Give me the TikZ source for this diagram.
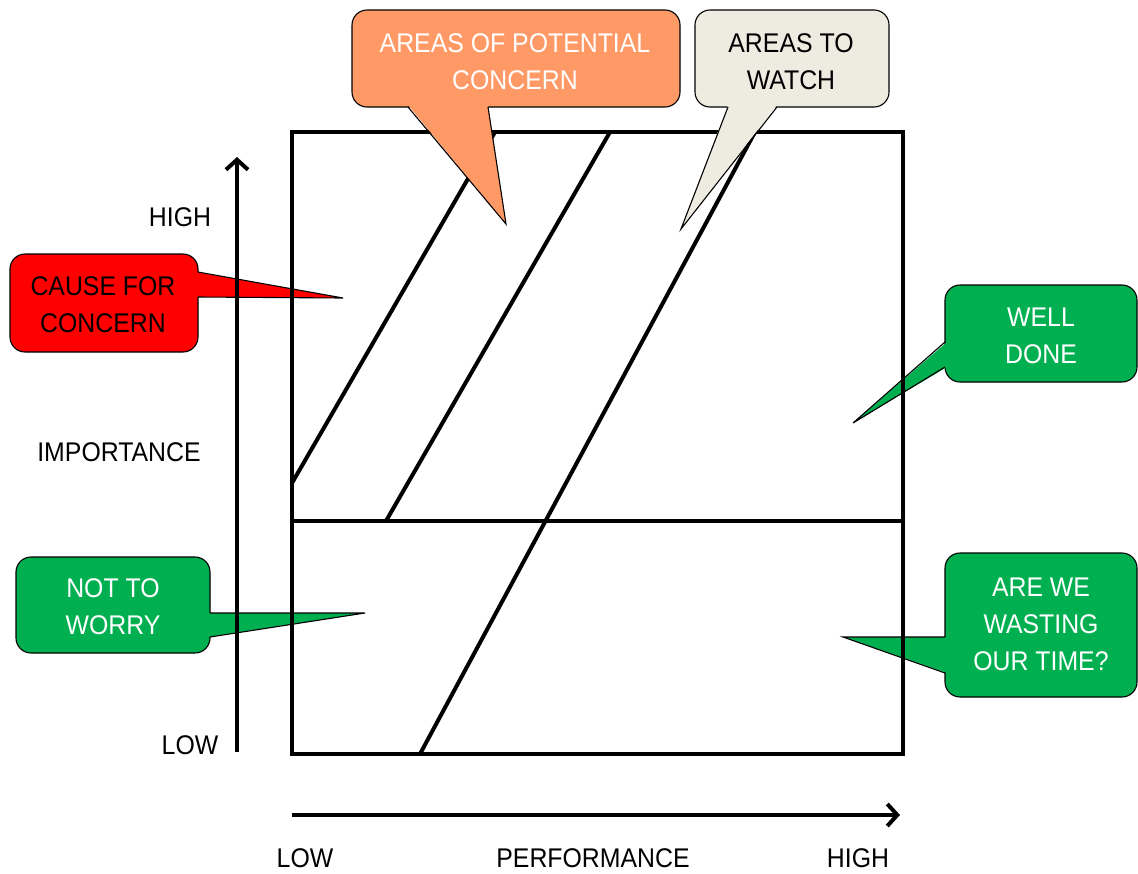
\documentclass[tikz,border=0pt]{standalone}
\usepackage{fontspec}
\setmainfont{Liberation Sans}[FakeStretch=0.92]
\usetikzlibrary{arrows.meta}
\definecolor{cgreen}{RGB}{0,176,80}
\definecolor{corange}{RGB}{255,153,102}
\definecolor{cbeige}{RGB}{238,236,225}
\definecolor{cred}{RGB}{255,0,0}
\tikzset{
  cbox/.style={draw=black,line width=1.1pt,rounded corners=15},
  ctail/.style={draw=black,line width=1.1pt,line join=miter},
  grid/.style={line width=4pt,line cap=rect},
  axis/.style={line width=4pt,-{Straight Barb[length=10pt,width=22pt,line width=4pt]}},
  lbl/.style={font=\fontsize{27}{37}\selectfont,align=center,inner sep=0pt},
}
\begin{document}
\begin{tikzpicture}[x=1pt,y=-1pt]
\useasboundingbox (0,0) rectangle (1138,873);
% --- callouts beneath the lines ---
% red
\path[cbox,fill=cred] (10,254) rectangle (198,352);
\fill[cred] (196,272) -- (343,298) -- (196,297) -- cycle;
\draw[ctail] (198,272) -- (343,298) -- (198,297);
\node[lbl,text=black] (cause) at (103,305) {CAUSE FOR\\CONCERN};
% not to worry
\path[cbox,fill=cgreen] (16,557) rectangle (210,653);
\fill[cgreen] (208,613) -- (365,613) -- (208,637) -- cycle;
\draw[ctail] (210,613) -- (365,613) -- (210,637);
\node[lbl,text=white] (worry) at (113,607) {NOT TO\\WORRY};
% well done
\path[cbox,fill=cgreen] (945,285) rectangle (1137,382);
\fill[cgreen] (947,342) -- (853,423) -- (947,367) -- cycle;
\draw[ctail] (945,342) -- (853,423) -- (945,367);
\node[lbl,text=white] (well) at (1041,336) {WELL\\DONE};
% are we wasting
\path[cbox,fill=cgreen] (945,553) rectangle (1137,697);
\fill[cgreen] (947,637) -- (843,637) -- (947,673) -- cycle;
\draw[ctail] (945,637) -- (843,637) -- (945,673);
\node[lbl,text=white] (waste) at (1041,624) {ARE WE\\WASTING\\OUR TIME?};
% --- grid ---
\coordinate (tl) at (292,132);
\coordinate (br) at (903,754);
\draw[grid] (tl) rectangle (br);
\coordinate (ml) at (292,521);
\coordinate (mr) at (903,521);
\draw[grid] (ml) -- (mr);
\coordinate (d1a) at (292,483);
\coordinate (d1b) at (495,132);
\coordinate (d2a) at (386,521);
\coordinate (d2b) at (610,132);
\coordinate (d3a) at (420,754);
\coordinate (d3b) at (755,132);
\draw[line width=4pt] (d1a) -- (d1b);
\draw[line width=4pt] (d2a) -- (d2b);
\draw[line width=4pt] (d3a) -- (d3b);
% --- axes ---
\coordinate (ya) at (237,752);
\coordinate (yb) at (237,157);
\coordinate (xa) at (292,815);
\coordinate (xb) at (900,815);
\draw[axis] (ya) -- (yb);
\draw[axis] (xa) -- (xb);
\node[lbl] (yhigh) at (180,217) {HIGH};
\node[lbl] (yimp) at (119,452) {IMPORTANCE};
\node[lbl] (ylow) at (190,745) {LOW};
\node[lbl] (xlow) at (305,858) {LOW};
\node[lbl] (xperf) at (593,858) {PERFORMANCE};
\node[lbl] (xhigh) at (858,858) {HIGH};
% --- callouts above the lines ---
\path[cbox,fill=corange] (352,10) rectangle (680,107);
\fill[corange] (408,105) -- (506,224) -- (488,105) -- cycle;
\draw[ctail] (408,107) -- (506,224) -- (488,107);
\node[lbl,text=white] (potential) at (515,62) {AREAS OF POTENTIAL\\CONCERN};
\path[cbox,fill=cbeige] (695,10) rectangle (889,107);
\fill[cbeige] (728,105) -- (681,229) -- (777,105) -- cycle;
\draw[ctail] (728,107) -- (681,229) -- (777,107);
\node[lbl,text=black] (watch) at (791,62) {AREAS TO\\WATCH};
\end{tikzpicture}
\end{document}
